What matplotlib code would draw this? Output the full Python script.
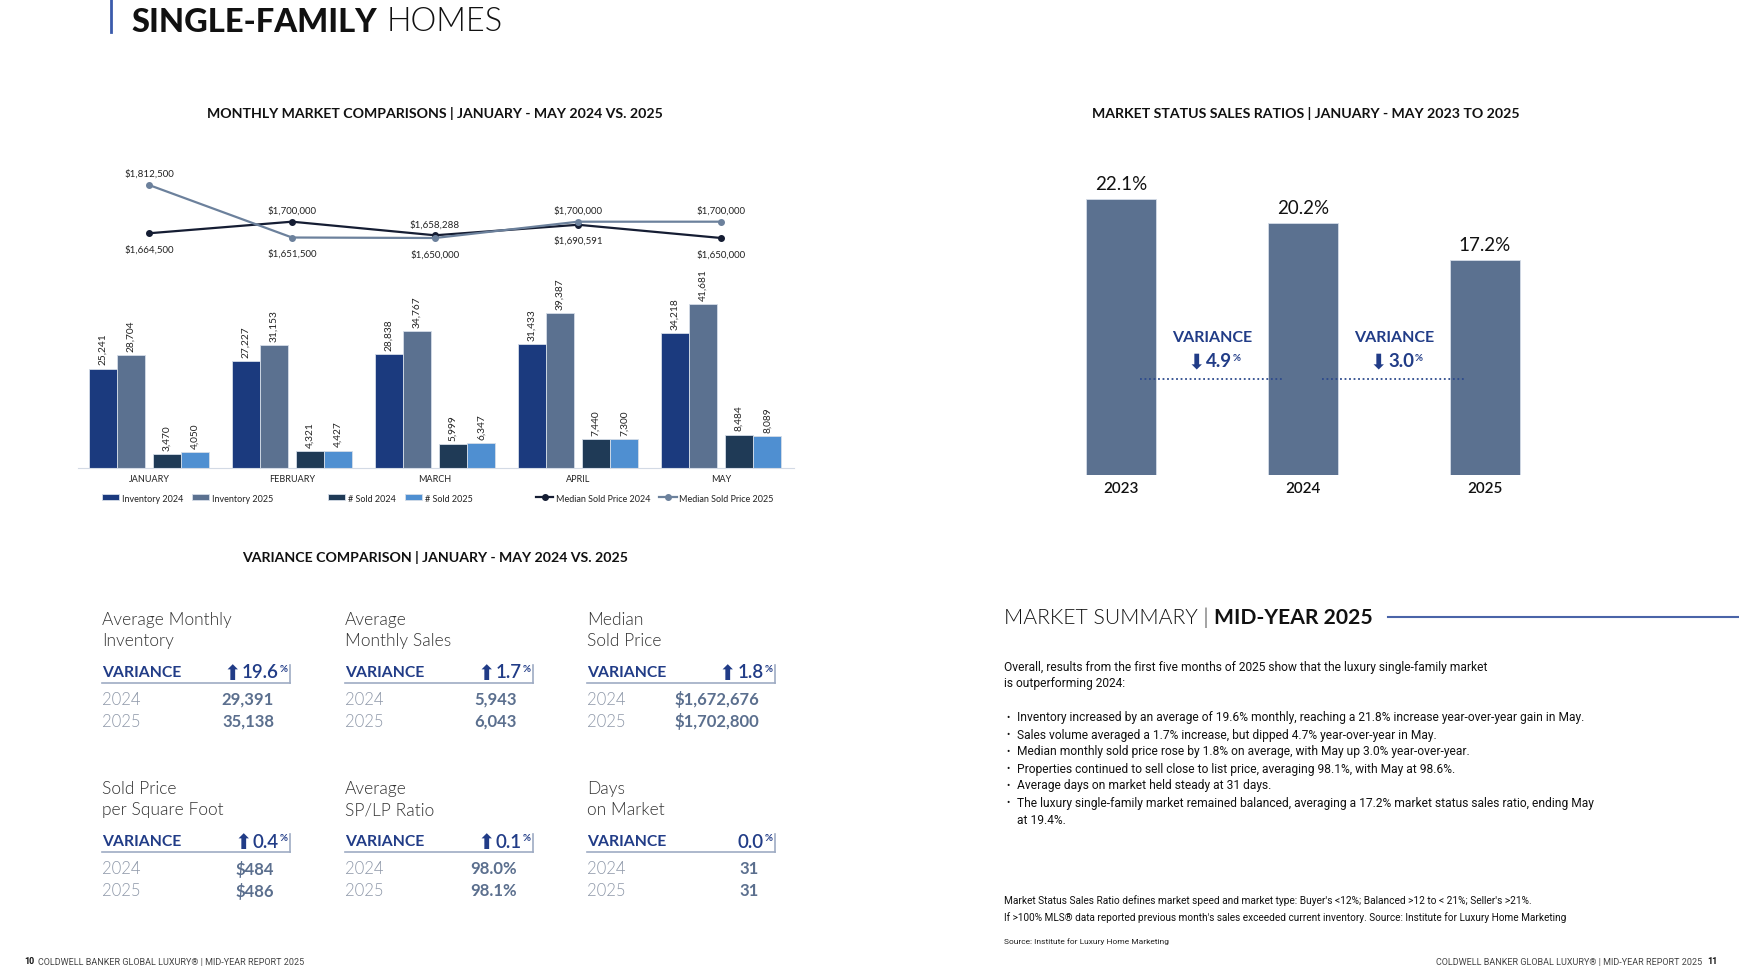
import numpy as np
import matplotlib
matplotlib.use("Agg")
import matplotlib.pyplot as plt

plt.rcParams['font.family'] = ['Lato', 'DejaVu Sans']

W, H = 1739, 978

# monthly market comparisons
months = ["JANUARY", "FEBRUARY", "MARCH", "APRIL", "MAY"]
inventory_2024 = [25241, 27227, 28838, 31433, 34218]
inventory_2025 = [28704, 31153, 34767, 39387, 41681]
sold_2024 = [3470, 4321, 5999, 7440, 8484]
sold_2025 = [4050, 4427, 6347, 7300, 8089]
price_2024 = [1664500, 1700000, 1658288, 1690591, 1650000]
price_2025 = [1812500, 1651500, 1650000, 1700000, 1700000]

# market status sales ratios
ratio_years = ["2023", "2024", "2025"]
ratio_values = [22.1, 20.2, 17.2]
ratio_variance = [4.9, 3.0]

# variance comparison
metric_names = ["Average Monthly\nInventory", "Average\nMonthly Sales", "Median\nSold Price",
                "Sold Price\nper Square Foot", "Average\nSP/LP Ratio", "Days\non Market"]
variance_pct = [19.6, 1.7, 1.8, 0.4, 0.1, 0.0]
values_2024 = ["29,391", "5,943", "$1,672,676", "$484", "98.0%", "31"]
values_2025 = ["35,138", "6,043", "$1,702,800", "$486", "98.1%", "31"]

summary_intro = ["Overall, results from the first five months of 2025 show that the luxury single-family market",
                 "is outperforming 2024:"]
summary_bullets = [
    "Inventory increased by an average of 19.6% monthly, reaching a 21.8% increase year-over-year gain in May.",
    "Sales volume averaged a 1.7% increase, but dipped 4.7% year-over-year in May.",
    "Median monthly sold price rose by 1.8% on average, with May up 3.0% year-over-year.",
    "Properties continued to sell close to list price, averaging 98.1%, with May at 98.6%.",
    "Average days on market held steady at 31 days.",
    "The luxury single-family market remained balanced, averaging a 17.2% market status sales ratio, ending May\nat 19.4%.",
]
footnotes = ["Market Status Sales Ratio defines market speed and market type: Buyer's <12%; Balanced >12 to < 21%; Seller's >21%.",
             "If >100% MLS® data reported previous month's sales exceeded current inventory. Source: Institute for Luxury Home Marketing"]

navy = '#213c87'
slate = '#5b7190'

fig = plt.figure(figsize=(W / 100, H / 100), dpi=100)
bg = fig.add_axes([0, 0, 1, 1], zorder=0)
bg.set_xlim(0, W)
bg.set_ylim(H, 0)
bg.axis('off')


def box(x0, y0, x1, y1):
    return [x0 / W, 1 - y1 / H, (x1 - x0) / W, (y1 - y0) / H]


# page title
bg.plot([111, 111], [0, 33], color='#3b5bab', lw=2)
t = bg.text(131, 37, "SINGLE-FAMILY", fontsize=23.5, fontweight='black', color='#111', va='bottom')
bg.annotate("HOMES", xy=(1, 0), xycoords=t, xytext=(7, 0), textcoords='offset points',
            fontsize=23.5, fontweight=300, color='#111', va='bottom')

# section headings
for hx, hy, htxt in [(435, 113, "MONTHLY MARKET COMPARISONS | JANUARY - MAY 2024 VS. 2025"),
                     (1306, 113, "MARKET STATUS SALES RATIOS | JANUARY - MAY 2023 TO 2025"),
                     (435, 558, "VARIANCE COMPARISON | JANUARY - MAY 2024 VS. 2025")]:
    bg.text(hx, hy, htxt, fontsize=10.2, fontweight='bold', ha='center', va='center', color='#111')

# ---- monthly comparison chart
ax = fig.add_axes(box(78, 150, 794, 469), zorder=2)
ax.patch.set_alpha(0)
x = np.arange(len(months))
bw = 0.196
specs = [(inventory_2024, -0.325, '#1b3a7e', 'Inventory 2024'),
         (inventory_2025, -0.127, '#5b7190', 'Inventory 2025'),
         (sold_2024, 0.125, '#1f3a56', '# Sold 2024'),
         (sold_2025, 0.323, '#4f8fd1', '# Sold 2025')]
conts = []
for vals, off, col, lab in specs:
    c = ax.bar(x + off, vals, bw, color=col, edgecolor='#d5dde8', linewidth=0.6, label=lab)
    ax.bar_label(c, labels=[f"{v:,}" for v in vals], rotation=90, padding=3, fontsize=7.3, color='#222')
    conts.append(c)
ax.set_xlim(-0.4965, 4.51)
ax.set_ylim(0, 81000)
for s in ['top', 'right', 'left']:
    ax.spines[s].set_visible(False)
ax.spines['bottom'].set_color('#d3dae5')
ax.set_yticks([])
ax.set_xticks(x, months)
ax.tick_params(axis='x', length=0, pad=4, labelsize=6.5, labelcolor='#222')

ax2 = ax.twinx()
ax2.set_ylim(944820, 1922874)
ax2.axis('off')
l24, = ax2.plot(x, price_2024, color='#151d33', lw=1.6, marker='o', ms=4, label='Median Sold Price 2024')
l25, = ax2.plot(x, price_2025, color='#6c819c', lw=1.6, marker='o', ms=4, label='Median Sold Price 2025')
for i in x:
    hi, lo = (price_2025[i], price_2024[i]) if price_2025[i] > price_2024[i] else (price_2024[i], price_2025[i])
    ax2.annotate(f"${hi:,}", (i, hi), xytext=(0, 5), textcoords='offset points', ha='center',
                 va='bottom', fontsize=7, color='#222')
    ax2.annotate(f"${lo:,}", (i, lo), xytext=(0, -8), textcoords='offset points', ha='center',
                 va='top', fontsize=7, color='#222')

leg_kw = dict(loc='center left', bbox_transform=bg.transData, frameon=False, fontsize=6.5,
              ncol=2, borderaxespad=0, borderpad=0, handlelength=1.9, handleheight=0.6,
              handletextpad=0.3, columnspacing=1.0, labelcolor='#222')
lg1 = bg.legend(handles=conts[:2], bbox_to_anchor=(102, 499), **leg_kw)
bg.add_artist(lg1)
lg2 = bg.legend(handles=conts[2:], bbox_to_anchor=(328, 499), **leg_kw)
bg.add_artist(lg2)
bg.legend(handles=[l24, l25], bbox_to_anchor=(536, 499), **leg_kw)

# ---- market status sales ratios
ax3 = fig.add_axes(box(1030, 150, 1580, 476), zorder=2)
ax3.patch.set_alpha(0)
xr = np.arange(len(ratio_years))
bars = ax3.bar(xr, ratio_values, 0.385, color=slate, edgecolor='#d5dde8', linewidth=0.6)
ax3.bar_label(bars, fmt='%.1f%%', padding=5, fontsize=13.5, color='#111')
ax3.set_xlim(-0.5, 2.522)
ax3.set_ylim(0, 26.1)
for s in ax3.spines.values():
    s.set_visible(False)
ax3.set_yticks([])
ax3.set_xticks(xr, ratio_years, fontweight='semibold')
ax3.tick_params(axis='x', length=0, pad=4, labelsize=11, labelcolor='#111')
for i, v in enumerate(ratio_variance):
    ax3.plot([i + 0.104, i + 0.896], [7.69, 7.69], ls=(0, (1, 1.5)), color='#2d4a8c', lw=1.3, zorder=3)
    ax3.text(i + 0.5, 11.05, "VARIANCE", ha='center', va='center', fontsize=11.5, fontweight='bold', color=navy)
    tv = ax3.text(i + 0.54, 9.13, f"{v:.1f}", ha='center', va='center', fontsize=13.5, fontweight='bold', color=navy)
    ax3.annotate("⬇", xy=(0, 0.45), xycoords=tv, xytext=(-1, 0), textcoords='offset points', ha='right',
                 va='center', fontsize=15, color=navy, family='DejaVu Sans')
    ax3.annotate("%", xy=(1, 0.95), xycoords=tv, xytext=(0.5, 0), textcoords='offset points', ha='left',
                 va='top', fontsize=7, fontweight='bold', color=navy)

# ---- variance comparison grid
col_x = [102, 345, 587]
row_dy = [0, 169]
for k, name in enumerate(metric_names):
    x0 = col_x[k % 3]
    dy = row_dy[k // 3]
    l1, l2 = name.split("\n")
    bg.text(x0, 620 + dy, l1, fontsize=12.5, fontweight=300, color='#333', va='center')
    bg.text(x0, 641 + dy, l2, fontsize=12.5, fontweight=300, color='#333', va='center')
    bg.text(x0, 673 + dy, "VARIANCE", fontsize=11.3, fontweight='bold', color=navy, va='center')
    pt = bg.text(x0 + 177, 673 + dy, f"{variance_pct[k]:.1f}", ha='right', va='center', fontsize=13.5,
                 fontweight='semibold', color=navy)
    bg.annotate("%", xy=(1, 0.95), xycoords=pt, xytext=(0.5, 0), textcoords='offset points', ha='left',
                va='top', fontsize=7, fontweight='bold', color=navy)
    if variance_pct[k] > 0:
        bg.annotate("⬆", xy=(0, 0.45), xycoords=pt, xytext=(-1, 0), textcoords='offset points', ha='right',
                    va='center', fontsize=15, color=navy, family='DejaVu Sans')
    bg.plot([x0, x0 + 188], [684 + dy, 684 + dy], color='#9eabc3', lw=1.2)
    bg.plot([x0 + 188, x0 + 188], [666 + dy, 684 + dy], color='#9eabc3', lw=1.2)
    for yy, year, vals in [(700, "2024", values_2024), (722, "2025", values_2025)]:
        bg.text(x0, yy + dy, year, fontsize=12, fontweight=300, color='#8d97a8', va='center')
        bg.text(x0 + 172, yy + dy, vals[k], ha='right', fontsize=12, fontweight='bold',
                color='#5b6f8e', va='center')

# ---- market summary
ms = bg.text(1004, 618, "MARKET SUMMARY | ", fontsize=15.2, fontweight=300, color='#111', va='center')
bg.annotate("MID-YEAR 2025", xy=(1, 0.5), xycoords=ms, fontsize=15.2, fontweight='bold', color='#111',
            va='center')
bg.plot([1388, W], [618, 618], color='#4a64a8', lw=1.5)

for j, line in enumerate(summary_intro):
    bg.text(1004, 667 + 17 * j, line, fontsize=8.65, family='Roboto', color='#111', va='center')
yy = 718
for b in summary_bullets:
    bg.text(1006, yy, "•", fontsize=7, family='Roboto', color='#111', va='center')
    for part in b.split("\n"):
        bg.text(1017, yy, part, fontsize=8.65, family='Roboto', color='#111', va='center')
        yy += 17

bg.text(1004, 901, footnotes[0], fontsize=7.3, family='Roboto', color='#111', va='center')
bg.text(1004, 918, footnotes[1], fontsize=7.2, family='Roboto', color='#111', va='center')
bg.text(1004, 942, "Source: Institute for Luxury Home Marketing", fontsize=6, family='Roboto',
        color='#222', va='center')

# footers
footer = "COLDWELL BANKER GLOBAL LUXURY® | MID-YEAR REPORT 2025"
f1 = bg.text(24, 962, "10", fontsize=6.5, fontweight='bold', family='Roboto', color='#111', va='center')
bg.annotate(footer, xy=(1, 0.5), xycoords=f1, xytext=(3, 0), textcoords='offset points', fontsize=6.5,
            family='Roboto', color='#444', va='center')
f2 = bg.text(1717, 962, "11", fontsize=6.5, fontweight='bold', family='Roboto', color='#111', va='center',
             ha='right')
bg.annotate(footer, xy=(0, 0.5), xycoords=f2, xytext=(-3, 0), textcoords='offset points', fontsize=6.5,
            family='Roboto', color='#444', va='center', ha='right')

fig.savefig("out.png", dpi=100)
